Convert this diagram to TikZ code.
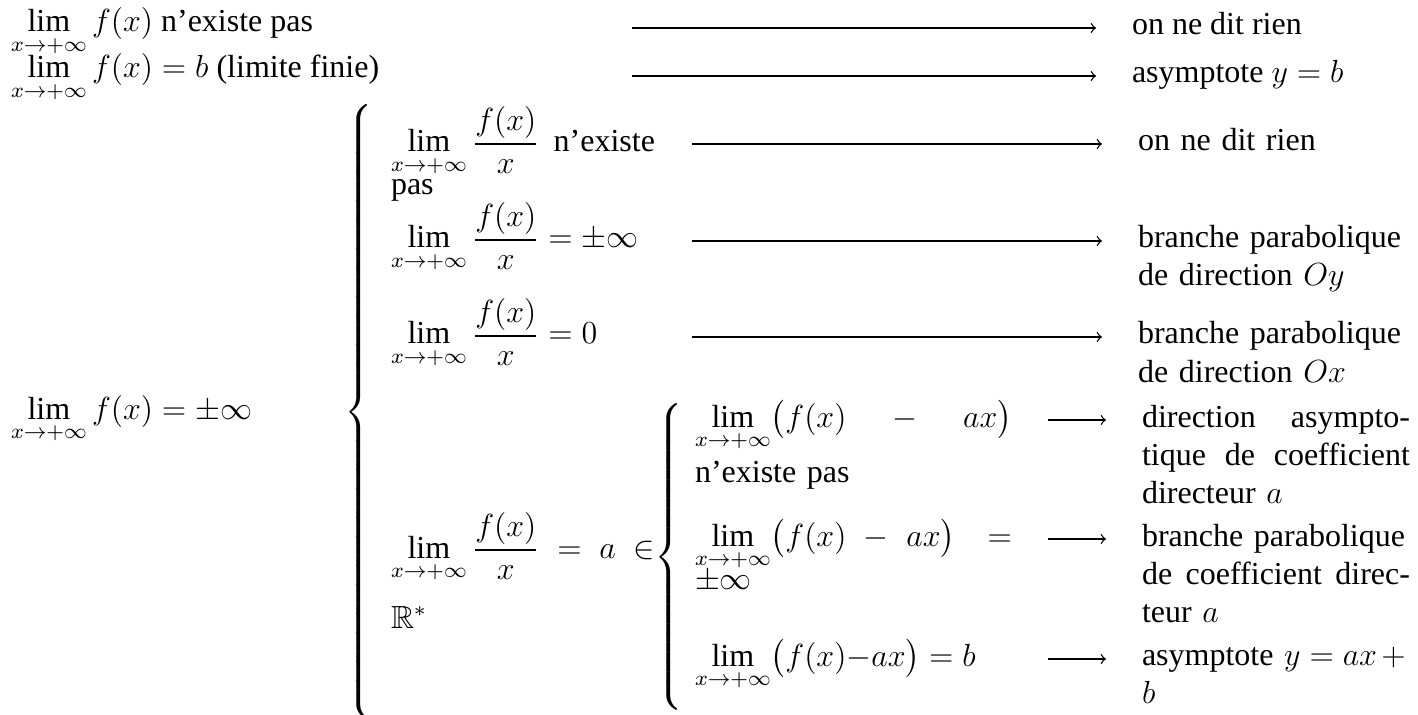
\documentclass[tikz,border=0pt]{standalone}
\usepackage{amsmath,amssymb}
\usepackage{fontspec}
\setmainfont{Liberation Serif}
\newdimen\px \px=0.375pt
\newcommand{\fillline}[1]{\leavevmode\hbox to\linewidth{#1}\par}
\AtBeginDocument{\lineskiplimit=-1000pt\lineskip=0pt\delimiterfactor=1000\delimitershortfall=0pt}
\tikzset{
  every node/.style={inner sep=0pt, outer sep=0pt, font=\fontsize{12}{14.25}\selectfont},
  txt/.style={anchor=base west},
  par/.style={anchor=base west, text width=#1\px, align=left},
  arr/.style={->, line width=0.5pt, shorten >=36\px},
}
\begin{document}
\begin{tikzpicture}[x=0.375pt,y=-0.375pt]
\useasboundingbox (0,0) rectangle (1418,715);
% top rows
\node[txt] (lt1) at (11,32) {$\displaystyle\lim_{x\to+\infty} f(x)$ n'existe pas};
\node[txt] (lt2) at (11,78) {$\displaystyle\lim_{x\to+\infty} f(x)=b$ (limite finie)};
\node[txt] (rt1) at (1132,35) {on ne dit rien};
\node[txt] (rt2) at (1132,83) {asymptote $y=b$};
\coordinate (s1) at (632,28);
\coordinate (s2) at (632,76);
\draw[arr] (s1) -- (s1 -| rt1.west);
\draw[arr] (s2) -- (s2 -| rt2.west);
% big case
\node[txt] (lbig) at (11,419) {$\displaystyle\lim_{x\to+\infty} f(x)=\pm\infty$};
\node[txt] (bro) at (344,420) {$\left\{\vrule height 109pt depth 109pt width 0pt\right.$};
% middle column
\node[par=264] (m1) at (391,152) {\fillline{$\displaystyle\lim_{x\to+\infty}\frac{f(x)}{x}$\hfill n'existe}pas};
\node[txt] (m2) at (391,248) {$\displaystyle\lim_{x\to+\infty}\frac{f(x)}{x}=\pm\infty$};
\node[txt] (m3) at (391,344) {$\displaystyle\lim_{x\to+\infty}\frac{f(x)}{x}=0$};
\node[par=264] (m4) at (391,558) {\fillline{$\displaystyle\lim_{x\to+\infty}\frac{f(x)}{x}$\hfil$=$\hfil$a$\hfil$\in$}\vspace{21\px}$\mathbb{R}^*$};
\node[par=300] (rm1) at (1138,151) {on ne dit rien};
\node[par=300] (rm2) at (1138,248) {branche parabolique\par de direction $Oy$};
\node[par=300] (rm3) at (1138,344) {branche parabolique\par de direction $Ox$};
\coordinate (s3) at (692,144);
\coordinate (s4) at (692,241);
\coordinate (s5) at (692,337);
\draw[arr] (s3) -- (s3 -| rm1.west);
\draw[arr] (s4) -- (s4 -| rm2.west);
\draw[arr] (s5) -- (s5 -| rm3.west);
% inner case
\node[txt] (bri) at (654,565) {$\left\{\vrule height 53.5pt depth 53.5pt width 0pt\right.$};
\node[par=317] (i1) at (695,427) {\fillline{$\displaystyle\lim_{x\to+\infty}\bigl(f(x)$\hfil$-$\hfil$ax\bigr)$}\vspace{7\px}n'existe pas};
\node[par=317] (i2) at (695,546) {\fillline{$\displaystyle\lim_{x\to+\infty}\bigl(f(x)$\hskip17\px$-$\hskip18\px$ax\bigr)$\hfill$=$}\vspace{-2\px}$\pm\infty$};
\node[txt] (i3) at (695,666) {$\displaystyle\lim_{x\to+\infty}\bigl(f(x){-}ax\bigr)=b$};
\node[par=268] (ri1) at (1142,427) {\fillline{direction\hfill asympto-}\fillline{tique\hfill de\hfill coefficient}directeur $a$};
\node[par=268] (ri2) at (1142,546) {branche parabolique\par\fillline{de\hfill coefficient\hfill direc-}teur $a$};
\node[par=268] (ri3) at (1142,665) {\fillline{asymptote $y = ax +{}$}$b$};
\coordinate (s6) at (1048,420);
\coordinate (s7) at (1048,539);
\coordinate (s8) at (1048,659);
\draw[arr] (s6) -- (s6 -| ri1.west);
\draw[arr] (s7) -- (s7 -| ri2.west);
\draw[arr] (s8) -- (s8 -| ri3.west);
\end{tikzpicture}
\end{document}
